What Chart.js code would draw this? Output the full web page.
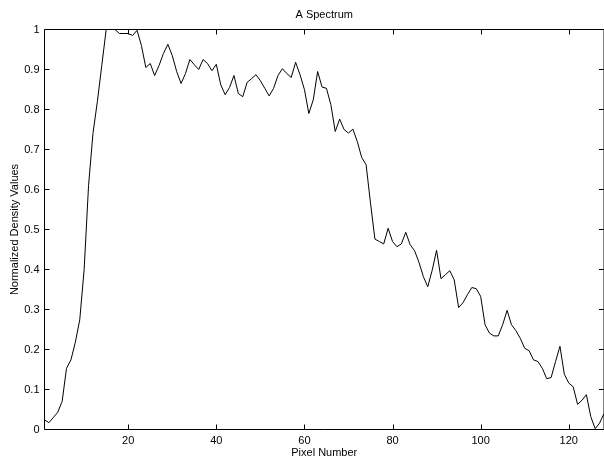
<!DOCTYPE html>
<html>
<head>
<meta charset="utf-8">
<script src="https://cdn.jsdelivr.net/npm/chart.js@4/dist/chart.umd.min.js"></script>
<style>
    html, body { margin: 0; padding: 0; background: #fff; }
    #wrap { width: 604px; height: 461px; position: relative; }
</style>
</head>
<body>
<div id="wrap"><canvas id="spectrum"></canvas></div>
<script>
// pixel index along the strip
const pixelNumbers = Array.from({ length: 128 }, (_, i) => i + 1);

// normalized density, one per pixel
const density = [
    0.024, 0.017, 0.030, 0.043, 0.070, 0.153, 0.174, 0.218, 0.274, 0.400,
    0.610, 0.740, 0.820, 0.910, 1.000, 1.000, 1.000, 0.990, 0.990, 0.990,
    0.985, 0.998, 0.960, 0.905, 0.915, 0.885, 0.910, 0.940, 0.963, 0.935,
    0.895, 0.865, 0.890, 0.925, 0.912, 0.900, 0.925, 0.915, 0.897, 0.913,
    0.862, 0.837, 0.855, 0.885, 0.840, 0.832, 0.868, 0.877, 0.887, 0.872,
    0.853, 0.834, 0.853, 0.885, 0.902, 0.890, 0.880, 0.918, 0.887, 0.850,
    0.790, 0.824, 0.895, 0.856, 0.853, 0.812, 0.745, 0.776, 0.750, 0.741,
    0.751, 0.720, 0.680, 0.662, 0.566, 0.476, 0.470, 0.464, 0.503, 0.470,
    0.457, 0.464, 0.493, 0.462, 0.447, 0.418, 0.382, 0.357, 0.398, 0.448,
    0.377, 0.387, 0.397, 0.374, 0.305, 0.317, 0.337, 0.355, 0.352, 0.333,
    0.262, 0.241, 0.234, 0.234, 0.262, 0.298, 0.262, 0.247, 0.228, 0.203,
    0.197, 0.174, 0.170, 0.153, 0.127, 0.130, 0.170, 0.208, 0.138, 0.116,
    0.107, 0.063, 0.073, 0.087, 0.032, 0.002, 0.016, 0.040
];

const xTicks = [20, 40, 60, 80, 100, 120];
const yTicks = [0, 0.1, 0.2, 0.3, 0.4, 0.5, 0.6, 0.7, 0.8, 0.9, 1];

const FONT = "'Liberation Sans', Arial, Helvetica, sans-serif";

// matlab style box with inward ticks on every side
const boxTicks = {
    id: "boxTicks",
    afterDatasetsDraw(chart) {
        const { ctx, chartArea: a, scales: { x, y } } = chart;
        const len = 5;
        ctx.save();
        ctx.strokeStyle = "#000";
        ctx.lineWidth = 1;
        ctx.beginPath();
        ctx.rect(a.left, a.top, a.right - a.left, a.bottom - a.top);
        xTicks.forEach(v => {
            const px = Math.round(x.getPixelForValue(v)) + 0.5;
            ctx.moveTo(px, a.bottom);
            ctx.lineTo(px, a.bottom - len);
            ctx.moveTo(px, a.top);
            ctx.lineTo(px, a.top + len);
        });
        yTicks.forEach(v => {
            const py = Math.round(y.getPixelForValue(v) - 0.5) + 0.5;
            ctx.moveTo(a.left, py);
            ctx.lineTo(a.left + len, py);
            ctx.moveTo(a.right, py);
            ctx.lineTo(a.right - len, py);
        });
        ctx.stroke();
        ctx.restore();
    }
};

const ctx = document.getElementById("spectrum");

new Chart(ctx, {
    type: "line",
    data: {
        datasets: [
            {
                label: "Spectrum",
                data: pixelNumbers.map((p, i) => ({ x: p, y: density[i] })),
                borderColor: "#000",
                borderWidth: 1,
                pointRadius: 0,
                tension: 0,
                fill: false,
            },
        ],
    },
    options: {
        responsive: true,
        maintainAspectRatio: false,
        animation: false,
        layout: { padding: 0 },
        plugins: {
            legend: { display: false },
            tooltip: { enabled: false },
        },
        scales: {
            x: {
                type: "linear",
                min: 1,
                max: 128,
                afterBuildTicks: s => { s.ticks = xTicks.map(v => ({ value: v })); },
                afterFit: s => { s.height = 31.5; },
                grid: { display: false, drawTicks: false },
                border: { display: false },
                ticks: {
                    color: "#000",
                    padding: 4.5,
                    maxRotation: 0,
                    font: { family: FONT, size: 11 },
                },
                title: {
                    display: true,
                    text: "Pixel Number",
                    color: "#000",
                    font: { family: FONT, size: 11 },
                    padding: { top: 0, bottom: 1.4 },
                },
            },
            // top axis only carries the plot title, centred over the axes box
            top: {
                type: "linear",
                position: "top",
                min: 1,
                max: 128,
                afterFit: s => { s.height = 29.5; },
                grid: { display: false, drawTicks: false },
                border: { display: false },
                ticks: { display: false },
                title: {
                    display: true,
                    text: "A Spectrum",
                    color: "#000",
                    font: { family: FONT, size: 11 },
                    padding: { top: 7.9, bottom: 0 },
                },
            },
            y: {
                min: 0,
                max: 1,
                afterBuildTicks: s => { s.ticks = yTicks.map(v => ({ value: v })); },
                afterFit: s => { s.width = 44.5; },
                grid: { display: false, drawTicks: false },
                border: { display: false },
                ticks: {
                    color: "#000",
                    padding: 5,
                    font: { family: FONT, size: 11 },
                    callback: v => String(Math.round(v * 10) / 10),
                },
                title: {
                    display: true,
                    text: "Normalized Density Values",
                    color: "#000",
                    font: { family: FONT, size: 11 },
                    padding: { top: 8, bottom: 0 },
                },
            },
        },
    },
    plugins: [boxTicks],
});
</script>
</body>
</html>
